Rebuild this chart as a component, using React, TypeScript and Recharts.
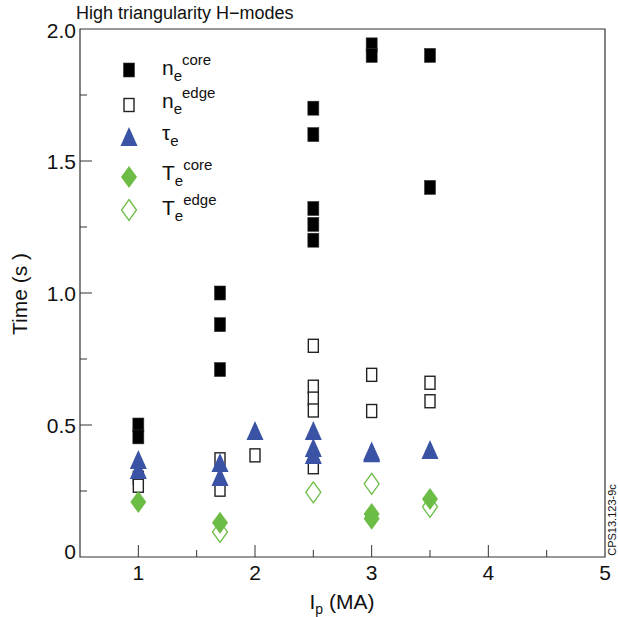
import { ScatterChart, Scatter, XAxis, YAxis, ReferenceArea } from "recharts";

const FONT = "'Liberation Sans', Arial, Helvetica, sans-serif";
const BLUE = "#3a53a4";
const GREEN = "#6cbd45";

const ipTicks = [1, 1.5, 2, 2.5, 3, 3.5, 4, 4.5, 5];
const timeTicks = [0, 0.25, 0.5, 0.75, 1, 1.25, 1.5, 1.75, 2];

// plasma current (MA) vs time (s)
const neCore = [
  { ip: 1, t: 0.5 }, { ip: 1, t: 0.455 },
  { ip: 1.7, t: 1.0 }, { ip: 1.7, t: 0.88 }, { ip: 1.7, t: 0.71 },
  { ip: 2.5, t: 1.7 }, { ip: 2.5, t: 1.6 }, { ip: 2.5, t: 1.32 }, { ip: 2.5, t: 1.26 }, { ip: 2.5, t: 1.2 },
  { ip: 3, t: 1.94 }, { ip: 3, t: 1.9 },
  { ip: 3.5, t: 1.9 }, { ip: 3.5, t: 1.4 },
];
const neEdge = [
  { ip: 1, t: 0.3 }, { ip: 1, t: 0.27 },
  { ip: 1.7, t: 0.37 }, { ip: 1.7, t: 0.255 },
  { ip: 2, t: 0.385 },
  { ip: 2.5, t: 0.8 }, { ip: 2.5, t: 0.645 }, { ip: 2.5, t: 0.6 }, { ip: 2.5, t: 0.555 }, { ip: 2.5, t: 0.34 },
  { ip: 3, t: 0.69 }, { ip: 3, t: 0.553 },
  { ip: 3.5, t: 0.66 }, { ip: 3.5, t: 0.59 },
];
const tauE = [
  { ip: 1, t: 0.367 }, { ip: 1, t: 0.33 },
  { ip: 1.7, t: 0.356 }, { ip: 1.7, t: 0.303 },
  { ip: 2, t: 0.477 },
  { ip: 2.5, t: 0.477 }, { ip: 2.5, t: 0.413 }, { ip: 2.5, t: 0.386 },
  { ip: 3, t: 0.4 }, { ip: 3, t: 0.393 },
  { ip: 3.5, t: 0.405 },
];
const teCore = [
  { ip: 1, t: 0.208 },
  { ip: 1.7, t: 0.13 },
  { ip: 3, t: 0.163 }, { ip: 3, t: 0.145 },
  { ip: 3.5, t: 0.22 },
];
const teEdge = [
  { ip: 1.7, t: 0.095 },
  { ip: 2.5, t: 0.245 },
  { ip: 3, t: 0.277 },
  { ip: 3.5, t: 0.19 },
];

function FilledSquare({ cx, cy }: any) {
  return <rect x={cx - 5.5} y={cy - 7} width={11} height={14} fill="#000" stroke="#333" strokeWidth={0.6} />;
}
function OpenSquare({ cx, cy }: any) {
  return <rect x={cx - 5} y={cy - 6.5} width={10} height={13} fill="#fff" stroke="#222" strokeWidth={1.4} />;
}
function Triangle({ cx, cy }: any) {
  return <path d={`M${cx},${cy - 10}L${cx + 8.5},${cy + 9}L${cx - 8.5},${cy + 9}Z`} fill={BLUE} />;
}
function FilledDiamond({ cx, cy }: any) {
  return <path d={`M${cx},${cy - 11}L${cx + 8},${cy}L${cx},${cy + 11}L${cx - 8},${cy}Z`} fill={GREEN} />;
}
function OpenDiamond({ cx, cy }: any) {
  return <path d={`M${cx},${cy - 10.5}L${cx + 7.5},${cy}L${cx},${cy + 10.5}L${cx - 7.5},${cy}Z`} fill="#fff" stroke={GREEN} strokeWidth={1.3} />;
}

function IpTick({ x, y, payload }: any) {
  const v = payload.value;
  const major = Number.isInteger(v);
  return (
    <g>
      {v < 5 && <line x1={x} x2={x} y1={y} y2={y - (major ? 12 : 7)} stroke="#333" />}
      {major && (
        <text x={x} y={y + 23} textAnchor="middle" fontSize={21} fontFamily={FONT} fill="#111">
          {v}
        </text>
      )}
    </g>
  );
}

function TimeTick({ x, y, payload }: any) {
  const v = payload.value;
  const major = v % 0.5 === 0;
  return (
    <g>
      {v > 0 && v < 2 && <line x1={x} x2={x + (major ? 12 : 7)} y1={y} y2={y} stroke="#333" />}
      {major && (
        <text x={x - 4} y={y + (v === 0 ? 1.5 : v === 2 ? 8.5 : 7.5)} textAnchor="end" fontSize={21} fontFamily={FONT} fill="#111">
          {v === 0 ? "0" : v.toFixed(1)}
        </text>
      )}
    </g>
  );
}

const legendRows = [
  { shape: FilledSquare, y: 70, base: "n", sup: "core", textY: 75 },
  { shape: OpenSquare, y: 105, base: "n", sup: "edge", textY: 108 },
  { shape: Triangle, y: 137, base: "τ", sup: "", textY: 140 },
  { shape: FilledDiamond, y: 177, base: "T", sup: "core", textY: 180 },
  { shape: OpenDiamond, y: 210, base: "T", sup: "edge", textY: 215 },
];

export default function App() {
  return (
    <div style={{ position: "absolute", left: 0, top: 0, width: 618, height: 617, background: "#fff" }}>
      <ScatterChart width={618} height={617} margin={{ top: 29, right: 13, bottom: 20, left: 20 }}>
        <XAxis
          type="number"
          dataKey="ip"
          domain={[0.5, 5]}
          ticks={ipTicks}
          interval={0}
          height={40}
          tickSize={0}
          tickMargin={0}
          tickLine={false}
          axisLine={false}
          tick={<IpTick />}
          allowDataOverflow
        />
        <YAxis
          type="number"
          dataKey="t"
          domain={[0, 2]}
          ticks={timeTicks}
          interval={0}
          width={60}
          tickSize={0}
          tickMargin={0}
          tickLine={false}
          axisLine={false}
          tick={<TimeTick />}
          allowDataOverflow
        />
        <ReferenceArea x1={0.5} x2={5} y1={0} y2={2} fill="none" stroke="#333" strokeWidth={1.2} ifOverflow="visible" />
        <Scatter data={neCore} shape={<FilledSquare />} isAnimationActive={false} />
        <Scatter data={neEdge} shape={<OpenSquare />} isAnimationActive={false} />
        <Scatter data={tauE} shape={<Triangle />} isAnimationActive={false} />
        <Scatter data={teEdge} shape={<OpenDiamond />} isAnimationActive={false} />
        <Scatter data={teCore} shape={<FilledDiamond />} isAnimationActive={false} />
      </ScatterChart>
      <svg width={618} height={617} style={{ position: "absolute", left: 0, top: 0, pointerEvents: "none" }} fontFamily={FONT} fill="#111">
        <text x={76} y={19} fontSize={18}>High triangularity H−modes</text>
        <text transform="translate(27,294) rotate(-90)" textAnchor="middle" fontSize={21}>Time (s )</text>
        <text x={342} y={609} textAnchor="middle" fontSize={21}>
          I<tspan fontSize={14} dy={5}>p</tspan>
          <tspan dy={-5}> (MA)</tspan>
        </text>
        <text transform="translate(616,520) rotate(-90)" textAnchor="middle" fontSize={11}>CPS13.123-9c</text>
        {legendRows.map((r, i) => {
          const Shape = r.shape;
          return (
            <g key={i}>
              <Shape cx={129} cy={r.y} />
              <text x={162} y={r.textY} fontSize={21}>
                {r.base}
                <tspan fontSize={15} dy={6}>e</tspan>
                {r.sup && <tspan fontSize={15} dy={-16}>{r.sup}</tspan>}
              </text>
            </g>
          );
        })}
      </svg>
    </div>
  );
}
